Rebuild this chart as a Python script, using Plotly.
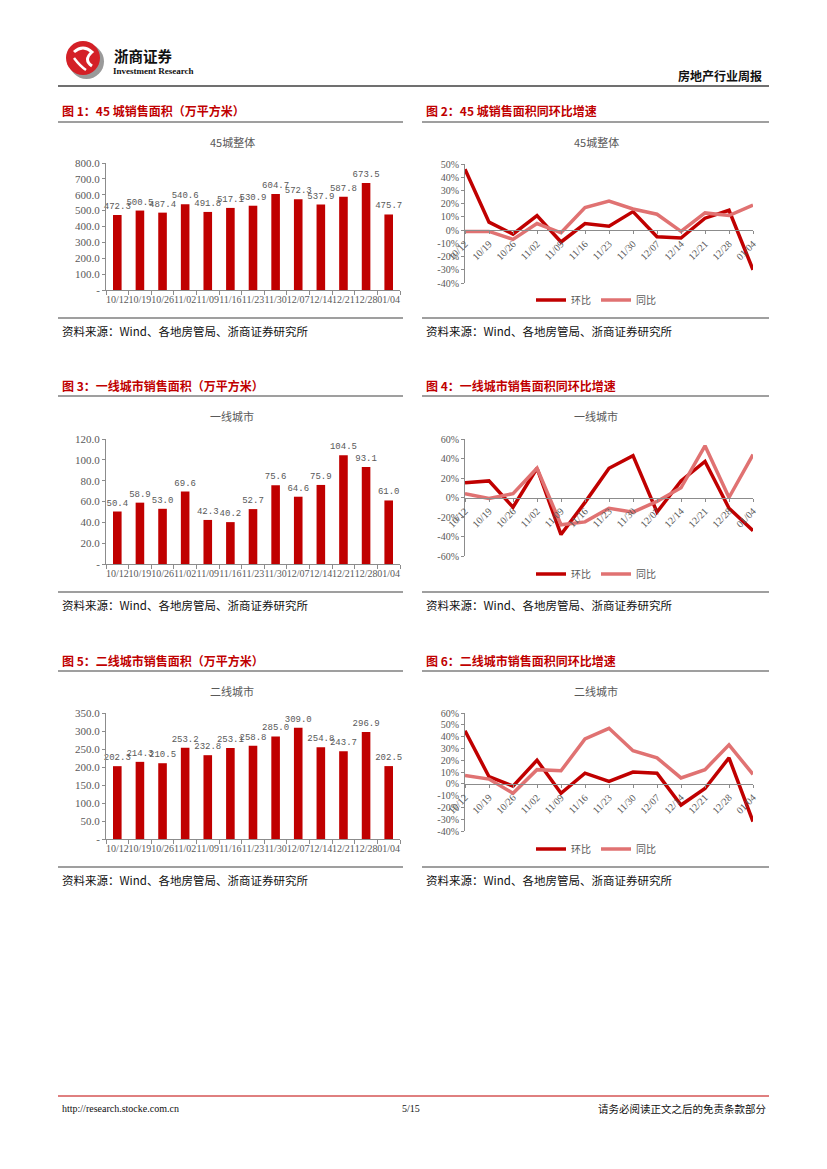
import plotly.graph_objects as go

W, H = 827, 1169
PAGE_PAD = 8  # the page body margin that the browser adds around the figure

categories = ["10/12", "10/19", "10/26", "11/02", "11/09", "11/16", "11/23",
              "11/30", "12/07", "12/14", "12/21", "12/28", "01/04"]

# Figure 1 / 2 : 45 cities
area_45 = [472.3, 500.5, 487.4, 540.6, 491.8, 517.1, 530.9, 604.7, 572.3, 537.9, 587.8, 673.5, 475.7]
mom_45 = [0.46, 0.06, -0.03, 0.11, -0.09, 0.05, 0.03, 0.14, -0.05, -0.06, 0.09, 0.15, -0.30]
yoy_45 = [-0.01, -0.01, -0.07, 0.05, -0.02, 0.17, 0.22, 0.16, 0.12, -0.01, 0.13, 0.11, 0.19]

# Figure 3 / 4 : tier-1 cities
area_t1 = [50.4, 58.9, 53.0, 69.6, 42.3, 40.2, 52.7, 75.6, 64.6, 75.9, 104.5, 93.1, 61.0]
mom_t1 = [0.15, 0.17, -0.10, 0.30, -0.38, -0.05, 0.30, 0.43, -0.15, 0.17, 0.37, -0.11, -0.34]
yoy_t1 = [0.04, -0.01, 0.04, 0.30, -0.28, -0.25, -0.11, -0.15, -0.04, 0.10, 0.53, 0.00, 0.44]

# Figure 5 / 6 : tier-2 cities
area_t2 = [202.3, 214.3, 210.5, 253.2, 232.8, 253.1, 258.8, 285.0, 309.0, 254.8, 243.7, 296.9, 202.5]
mom_t2 = [0.45, 0.06, -0.02, 0.20, -0.08, 0.09, 0.02, 0.10, 0.09, -0.18, -0.04, 0.22, -0.32]
yoy_t2 = [0.07, 0.04, -0.08, 0.12, 0.11, 0.38, 0.47, 0.28, 0.22, 0.05, 0.12, 0.33, 0.08]

# tick values / labels
bar1_tickvals = [0, 100, 200, 300, 400, 500, 600, 700, 800]
bar1_ticktext = ["-", "100.0", "200.0", "300.0", "400.0", "500.0", "600.0", "700.0", "800.0"]
bar3_tickvals = [0, 20, 40, 60, 80, 100, 120]
bar3_ticktext = ["-", "20.0", "40.0", "60.0", "80.0", "100.0", "120.0"]
bar5_tickvals = [0, 50, 100, 150, 200, 250, 300, 350]
bar5_ticktext = ["-", "50.0", "100.0", "150.0", "200.0", "250.0", "300.0", "350.0"]
line2_tickvals = [-0.4, -0.3, -0.2, -0.1, 0, 0.1, 0.2, 0.3, 0.4, 0.5]
line2_ticktext = ["-40%", "-30%", "-20%", "-10%", "0%", "10%", "20%", "30%", "40%", "50%"]
line4_tickvals = [-0.6, -0.4, -0.2, 0, 0.2, 0.4, 0.6]
line4_ticktext = ["-60%", "-40%", "-20%", "0%", "20%", "40%", "60%"]
line6_tickvals = [-0.4, -0.3, -0.2, -0.1, 0, 0.1, 0.2, 0.3, 0.4, 0.5, 0.6]
line6_ticktext = ["-40%", "-30%", "-20%", "-10%", "0%", "10%", "20%", "30%", "40%", "50%", "60%"]

fig_titles = ["图 1：45 城销售面积（万平方米）", "图 2：45 城销售面积同环比增速",
              "图 3：一线城市销售面积（万平方米）", "图 4：一线城市销售面积同环比增速",
              "图 5：二线城市销售面积（万平方米）", "图 6：二线城市销售面积同环比增速"]
chart_titles = ["45城整体", "一线城市", "二线城市"]
source_text = "资料来源：Wind、各地房管局、浙商证券研究所"
series_names = ["环比", "同比"]

RED = "#C00000"
PINK = "#E07272"
GRAY = "#595959"
AXIS = "#8C8C8C"
CJK = "Noto Sans CJK SC"
SERIF = "Liberation Serif"


def fx(p):
    return (p - PAGE_PAD) / W


def fy(p):
    return 1 - (p - PAGE_PAD) / H


fig = go.Figure()

row_offsets = [0, 274, 549]
# (values, tickvals, ticktext, (bottom px, top px) in row-1 coordinates)
bar_sets = [(area_45, bar1_tickvals, bar1_ticktext, (290, 163)),
            (area_t1, bar3_tickvals, bar3_ticktext, (290, 165)),
            (area_t2, bar5_tickvals, bar5_ticktext, (290, 164))]
line_sets = [(mom_45, yoy_45, line2_tickvals, line2_ticktext, (283, 164)),
             (mom_t1, yoy_t1, line4_tickvals, line4_ticktext, (282, 165)),
             (mom_t2, yoy_t2, line6_tickvals, line6_ticktext, (282, 164))]

layout_axes = {}
shapes = []
annotations = []

for r in range(3):
    off = row_offsets[r]
    # ---------- bar chart (left) ----------
    vals, tv, tt, (yb, yt) = bar_sets[r]
    ai = 2 * r + 1
    xa = "x" if ai == 1 else f"x{ai}"
    ya = "y" if ai == 1 else f"y{ai}"
    fig.add_trace(go.Bar(
        x=categories, y=vals, xaxis=xa, yaxis=ya, width=0.38,
        marker=dict(color=RED, line=dict(width=0)),
        texttemplate="%{y:.1f}", textposition="outside", textangle=0,
        constraintext="none", cliponaxis=False,
        textfont=dict(family="Liberation Mono", size=9, color=GRAY),
        showlegend=False, hoverinfo="skip"))
    layout_axes[f"xaxis{'' if ai == 1 else ai}"] = dict(
        domain=[fx(106), fx(400)], anchor=ya, type="category",
        tickmode="array", tickvals=categories, ticktext=categories,
        tickangle=0, showline=True, linecolor=AXIS, linewidth=1,
        ticks="outside", ticklen=4, tickcolor=AXIS, tickson="boundaries",
        tickfont=dict(family=SERIF, size=10, color=GRAY), automargin=False,
        showgrid=False, zeroline=False, range=[-0.5, 12.5], fixedrange=True)
    layout_axes[f"yaxis{'' if ai == 1 else ai}"] = dict(
        domain=[fy(yb + off), fy(yt + off)], anchor=xa,
        range=[tv[0], tv[-1]], tickmode="array", tickvals=tv, ticktext=tt,
        showline=True, linecolor=AXIS, linewidth=1, ticks="outside",
        ticklen=3, tickcolor=AXIS, automargin=False,
        tickfont=dict(family=SERIF, size=11, color=GRAY),
        showgrid=False, zeroline=False, fixedrange=True)

    # ---------- line chart (right) ----------
    mom, yoy, ltv, ltt, (lb, lt) = line_sets[r]
    bi = 2 * r + 2
    xb = f"x{bi}"
    yb2 = f"y{bi}"
    leg = f"legend{bi}"
    fig.add_trace(go.Scatter(
        x=categories, y=mom, xaxis=xb, yaxis=yb2, mode="lines",
        name=series_names[0], line=dict(color=RED, width=3.5),
        cliponaxis=False, legend=leg, hoverinfo="skip"))
    fig.add_trace(go.Scatter(
        x=categories, y=yoy, xaxis=xb, yaxis=yb2, mode="lines",
        name=series_names[1], line=dict(color=PINK, width=3.5),
        cliponaxis=False, legend=leg, hoverinfo="skip"))
    d0 = fy(lb + off)
    d1 = fy(lt + off)
    zero_pos = d0 + (0 - ltv[0]) / (ltv[-1] - ltv[0]) * (d1 - d0)
    layout_axes[f"xaxis{bi}"] = dict(
        domain=[fx(465), fx(753)], anchor="free", position=zero_pos,
        type="category", range=[0, 12], tickmode="array",
        tickvals=categories, ticktext=categories, tickangle=-45,
        showline=True, linecolor=AXIS, linewidth=1, ticks="outside",
        ticklen=3, tickcolor=AXIS, automargin=False,
        tickfont=dict(family=SERIF, size=10, color=GRAY),
        showgrid=False, zeroline=False, fixedrange=True)
    layout_axes[f"yaxis{bi}"] = dict(
        domain=[d0, d1], anchor=xb, range=[ltv[0], ltv[-1]],
        tickmode="array", tickvals=ltv, ticktext=ltt,
        showline=True, linecolor=AXIS, linewidth=1, ticks="outside",
        ticklen=3, tickcolor=AXIS, automargin=False,
        tickfont=dict(family=SERIF, size=10, color=GRAY),
        showgrid=False, zeroline=False, fixedrange=True)
    layout_axes[leg] = dict(
        x=fx(596), y=fy(300 + off), xanchor="center", yanchor="middle",
        orientation="h", bgcolor="rgba(0,0,0,0)", itemwidth=30,
        font=dict(family=CJK, size=10, color=GRAY), itemclick=False)

    # ---------- titles, separators, source ----------
    for left, (x0, x1, tx) in enumerate([(58, 403, 60), (422, 769, 424)]):
        annotations.append(dict(
            text=fig_titles[2 * r + left], x=fx(tx), y=fy(111 + off),
            xref="paper", yref="paper", xanchor="left", yanchor="middle",
            showarrow=False, font=dict(family=CJK, size=12, color=RED, weight="bold")))
        shapes.append(dict(type="line", xref="paper", yref="paper",
                           x0=fx(x0), x1=fx(x1), y0=fy(122 + off), y1=fy(122 + off),
                           line=dict(color="#7F7F7F", width=1.5)))
        shapes.append(dict(type="line", xref="paper", yref="paper",
                           x0=fx(x0), x1=fx(x1), y0=fy(318 + off), y1=fy(318 + off),
                           line=dict(color="#7F7F7F", width=1.5)))
        annotations.append(dict(
            text=source_text, x=fx(tx), y=fy(331 + off),
            xref="paper", yref="paper", xanchor="left", yanchor="middle",
            showarrow=False, font=dict(family=CJK, size=11.5, color="#111111")))
        annotations.append(dict(
            text=chart_titles[r], x=fx(232 if left == 0 else 596), y=fy(142 + off),
            xref="paper", yref="paper", xanchor="center", yanchor="middle",
            showarrow=False, font=dict(family=CJK, size=11, color=GRAY)))

# ---------- page header ----------
shapes.append(dict(type="circle", xref="paper", yref="paper",
                   x0=fx(69), x1=fx(104), y0=fy(79), y1=fy(44),
                   fillcolor="#9A9A9A", line=dict(width=0)))
shapes.append(dict(type="circle", xref="paper", yref="paper",
                   x0=fx(66), x1=fx(100), y0=fy(75), y1=fy(41),
                   fillcolor="#D42027", line=dict(width=0)))
shapes.append(dict(type="path", xref="paper", yref="paper",
                   path=(f"M {fx(74)},{fy(52)} Q {fx(83)},{fy(44)} {fx(92)},{fy(52)} "
                         f"Q {fx(83)},{fy(60)} {fx(92)},{fy(66)}"),
                   line=dict(color="white", width=3)))
shapes.append(dict(type="path", xref="paper", yref="paper",
                   path=(f"M {fx(74)},{fy(58)} Q {fx(80)},{fy(66)} {fx(86)},{fy(70)}"),
                   line=dict(color="white", width=2.5)))
annotations.append(dict(text="浙商证券", x=fx(112), y=fy(55), xref="paper", yref="paper",
                        xanchor="left", yanchor="middle", showarrow=False,
                        font=dict(family=CJK, size=14.5, color="#111111", weight="bold")))
annotations.append(dict(text="Investment Research", x=fx(111), y=fy(71), xref="paper",
                        yref="paper", xanchor="left", yanchor="middle", showarrow=False,
                        font=dict(family="Liberation Sans Narrow", size=9, color="#111111",
                                  weight="bold")))
annotations.append(dict(text="房地产行业周报", x=fx(764), y=fy(76), xref="paper", yref="paper",
                        xanchor="right", yanchor="middle", showarrow=False,
                        font=dict(family=CJK, size=12, color="#111111", weight="bold")))
shapes.append(dict(type="line", xref="paper", yref="paper",
                   x0=fx(58), x1=fx(769), y0=fy(86), y1=fy(86),
                   line=dict(color="#404040", width=1.3)))

# ---------- page footer ----------
shapes.append(dict(type="line", xref="paper", yref="paper",
                   x0=fx(58), x1=fx(769), y0=fy(1096), y1=fy(1096),
                   line=dict(color=RED, width=1)))
annotations.append(dict(text="http://research.stocke.com.cn", x=fx(60), y=fy(1108),
                        xref="paper", yref="paper", xanchor="left", yanchor="middle",
                        showarrow=False, font=dict(family=SERIF, size=10, color="#111111")))
annotations.append(dict(text="5/15", x=fx(411), y=fy(1108), xref="paper", yref="paper",
                        xanchor="center", yanchor="middle", showarrow=False,
                        font=dict(family=SERIF, size=10, color="#111111")))
annotations.append(dict(text="请务必阅读正文之后的免责条款部分", x=fx(768), y=fy(1108),
                        xref="paper", yref="paper", xanchor="right", yanchor="middle",
                        showarrow=False, font=dict(family=CJK, size=10.5, color="#111111")))

fig.update_layout(
    width=W, height=H, margin=dict(l=0, r=0, t=0, b=0, autoexpand=False),
    paper_bgcolor="white", plot_bgcolor="rgba(0,0,0,0)",
    showlegend=True, shapes=shapes, annotations=annotations,
    font=dict(family=CJK, color=GRAY),
    **layout_axes)

fig.write_html("out.html")
